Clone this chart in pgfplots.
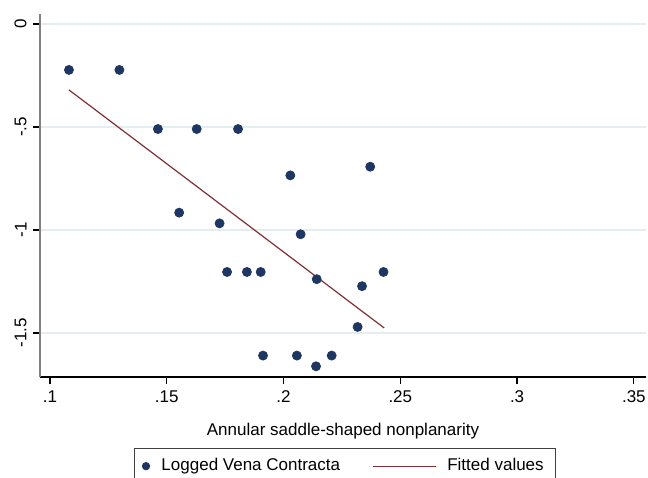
\documentclass[border=0pt]{standalone}
\usepackage{fontspec}
\setmainfont{Liberation Sans}
\usepackage{pgfplots}
\pgfplotsset{compat=1.18}

\definecolor{stnavy}{RGB}{30,55,98}
\definecolor{stmaroon}{RGB}{128,48,52}
\definecolor{stgrid}{RGB}{228,238,240}
\definecolor{stspine}{RGB}{128,128,128}

\begin{document}
\begin{tikzpicture}
\useasboundingbox (0,0) rectangle (324pt,-238.5pt);
\clip (0,0) rectangle (324pt,-238.5pt);
\begin{axis}[
    at={(20pt,-188.5pt)}, anchor=south west,
    scale only axis,
    width=303pt, height=181.5pt,
    xmin=0.0957, xmax=0.3552,
    ymin=-1.714, ymax=0.0485,
    axis x line*=bottom, axis y line*=left,
    x axis line style={black, line width=0.7pt, -},
    y axis line style={stspine, line width=0.8pt, -},
    xtick={0.1,0.15,0.2,0.25,0.3,0.35},
    xticklabels={.1,.15,.2,.25,.3,.35},
    ytick={-1.5,-1,-0.5,0},
    yticklabels={-1.5,-1,-.5,0},
    tick align=outside,
    major tick length=3.5pt,
    tick style={black, line width=0.6pt},
    ymajorgrids=true,
    grid style={stgrid, line width=0.7pt},
    font=\fontsize{8.5}{10}\selectfont,
    xticklabel style={anchor=north, inner sep=0pt, yshift=-3pt},
    yticklabel style={xshift=-3pt, rotate=90, anchor=south, inner sep=0pt},
    xlabel={Annular saddle-shaped nonplanarity},
    xlabel style={at={(axis description cs:0.5,0)}, anchor=north, inner sep=0pt, yshift=-23pt},
    legend columns=2,
    legend style={
        at={(axis description cs:0.1551,-0.1956)}, anchor=north west,
        draw=black!75, line width=0.5pt,
        inner xsep=0pt, inner ysep=5pt,
        nodes={inner sep=0pt, anchor=west},
        font=\fontsize{8.5}{10}\selectfont,
    },
]
\addplot[only marks, mark=*, mark size=2.25pt, color=stnavy,
    legend image code/.code={\path (-5.5pt,0pt) (7.5pt,0pt);
        \fill[stnavy] (0pt,0pt) circle (1.8pt);}]
  coordinates {
    (0.1081,-0.223) (0.1297,-0.223) (0.1462,-0.510) (0.1628,-0.510)
    (0.1805,-0.510) (0.2029,-0.735) (0.1553,-0.916) (0.1726,-0.968)
    (0.2073,-1.021) (0.2371,-0.693) (0.1758,-1.204) (0.1843,-1.204)
    (0.1902,-1.204) (0.2142,-1.239) (0.1912,-1.610) (0.2057,-1.610)
    (0.2139,-1.662) (0.2206,-1.610) (0.2317,-1.471) (0.2336,-1.273)
    (0.2428,-1.204)
  };
\addlegendentry{Logged Vena Contracta}
\addplot[no marks, color=stmaroon, line width=0.6pt,
    legend image code/.code={\path (-16pt,0pt) (37pt,0pt);
        \draw[stmaroon, line width=0.6pt] (0pt,0pt) -- (31.5pt,0pt);}]
  coordinates {(0.1081,-0.320) (0.2431,-1.476)};
\addlegendentry{Fitted values\hspace*{6pt}}
\end{axis}
\end{tikzpicture}
\end{document}
